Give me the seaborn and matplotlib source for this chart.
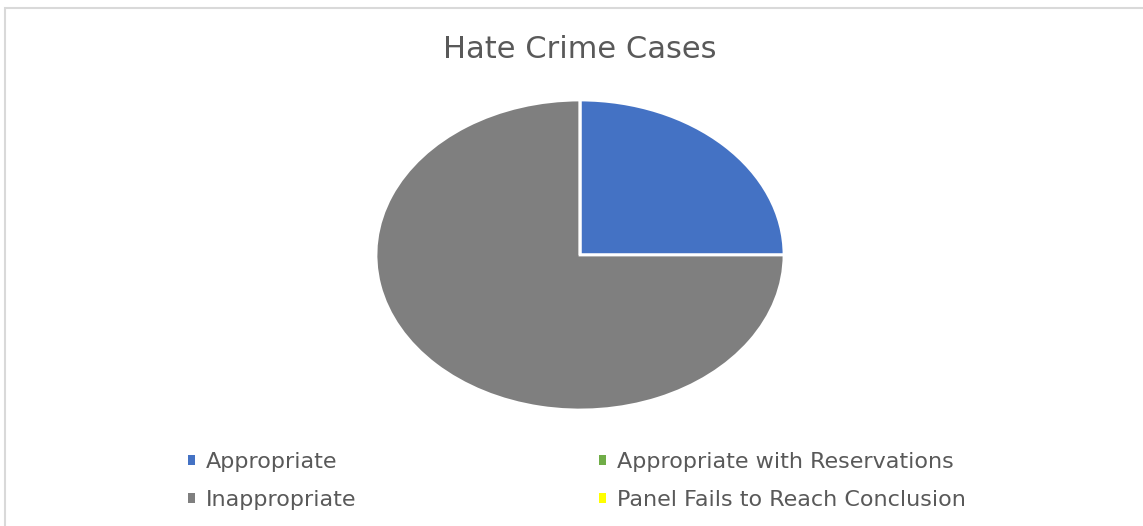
import matplotlib
matplotlib.use("Agg")
import matplotlib.pyplot as plt
import seaborn as sns
from matplotlib.patches import Rectangle, Patch

# chart data
categories = ["Appropriate", "Appropriate with Reservations",
              "Inappropriate", "Panel Fails to Reach Conclusion"]
case_counts = [1, 0, 3, 0]
slice_colors = ["#4472C4", "#70AD47", "#7F7F7F", "#FFFF00"]
title_text = "Hate Crime Cases"

W, H = 1143, 526
sns.set_theme(style="white")
plt.rcParams["font.family"] = ["DejaVu Sans"]

fig = plt.figure(figsize=(W / 100, H / 100), dpi=100)
fig.patch.set_facecolor("white")

# pie is stretched horizontally in the reference (ellipse)
cx, cy, rx, ry = 580, 526 - 255, 204, 155
ax = fig.add_axes([(cx - rx) / W, (cy - ry) / H, 2 * rx / W, 2 * ry / H])
ax.pie(case_counts, colors=slice_colors, startangle=90, counterclock=False,
       wedgeprops=dict(edgecolor="white", linewidth=2))
ax.set_aspect("auto")
ax.set_xlim(-1, 1)
ax.set_ylim(-1, 1)
ax.axis("off")

fig.text(580 / W, 1 - 49 / H, title_text, ha="center", va="center",
         fontsize=22, color="#595959")

# legend: two columns, filled row-wise
col_x = [188, 599]
for col in range(2):
    idx = [col, col + 2]
    handles = [Patch(facecolor=slice_colors[i], edgecolor="none") for i in idx]
    labels = [categories[i] for i in idx]
    leg = fig.legend(handles, labels, loc="upper left",
                     bbox_to_anchor=(col_x[col] / W, 1 - 452 / H),
                     frameon=False, fontsize=16,
                     handlelength=0.32, handleheight=0.3, handletextpad=0.5,
                     labelspacing=0.82, borderaxespad=0, borderpad=0)
    for t in leg.get_texts():
        t.set_color("#595959")

# light chart border (cropped on right/bottom)
fig.patches.append(Rectangle((5 / W, -0.1), 1.2, (518 / H) + 0.1,
                             transform=fig.transFigure, fill=False,
                             edgecolor="#d9d9d9", linewidth=1.5))

fig.savefig("out.png", dpi=100)
